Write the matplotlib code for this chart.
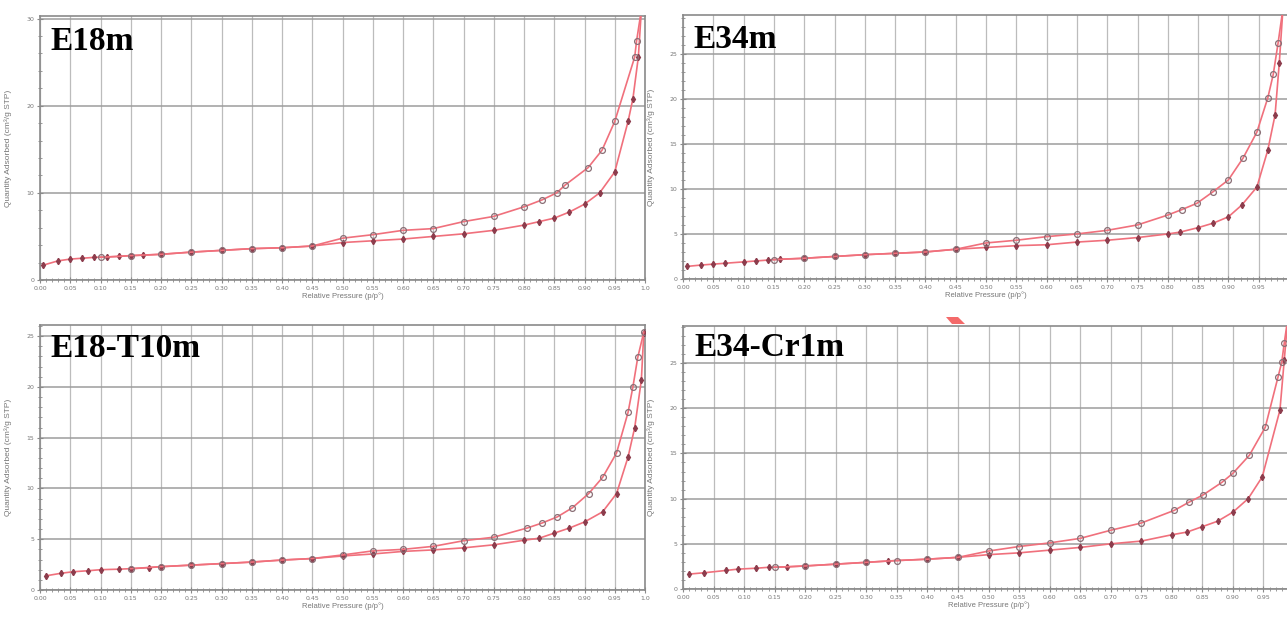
import numpy as np
import matplotlib
matplotlib.use("Agg")
import matplotlib.pyplot as plt
from matplotlib.ticker import MultipleLocator, FixedLocator, FixedFormatter
from matplotlib.patches import Polygon

# ---- data ----
x_ticks = [0.00, 0.05, 0.10, 0.15, 0.20, 0.25, 0.30, 0.35, 0.40, 0.45, 0.50,
           0.55, 0.60, 0.65, 0.70, 0.75, 0.80, 0.85, 0.90, 0.95, 1.0]
x_tick_labels = ["0.00", "0.05", "0.10", "0.15", "0.20", "0.25", "0.30", "0.35",
                 "0.40", "0.45", "0.50", "0.55", "0.60", "0.65", "0.70", "0.75",
                 "0.80", "0.85", "0.90", "0.95", "1.0"]

names = ["E18m", "E34m", "E18-T10m", "E34-Cr1m"]

e18_ads_x = [0.005, 0.03, 0.05, 0.07, 0.09, 0.11, 0.13, 0.15, 0.17, 0.20, 0.25, 0.30,
             0.35, 0.40, 0.45, 0.50, 0.55, 0.60, 0.65, 0.70, 0.75, 0.80, 0.825, 0.85,
             0.875, 0.90, 0.925, 0.95, 0.972, 0.98, 0.989, 0.994]
e18_ads_y = [1.7, 2.2, 2.4, 2.5, 2.6, 2.65, 2.7, 2.8, 2.85, 2.95, 3.2, 3.4,
             3.6, 3.7, 3.9, 4.3, 4.5, 4.7, 5.0, 5.3, 5.7, 6.3, 6.7, 7.1,
             7.8, 8.7, 10.0, 12.4, 18.2, 20.8, 25.6, 31.0]
e18_des_x = [0.994, 0.986, 0.983, 0.95, 0.929, 0.906, 0.868, 0.854, 0.83, 0.80,
             0.75, 0.70, 0.65, 0.60, 0.55, 0.50, 0.45, 0.40, 0.35, 0.30, 0.25,
             0.20, 0.15, 0.10]
e18_des_y = [31.0, 27.4, 25.6, 18.2, 14.9, 12.9, 10.9, 10.0, 9.2, 8.4,
             7.3, 6.7, 5.9, 5.7, 5.2, 4.8, 3.9, 3.7, 3.6, 3.4, 3.2,
             2.95, 2.8, 2.6]

e34_ads_x = [0.007, 0.03, 0.05, 0.07, 0.10, 0.12, 0.14, 0.16, 0.20, 0.25, 0.30,
             0.35, 0.40, 0.45, 0.50, 0.55, 0.60, 0.65, 0.70, 0.75, 0.80, 0.82,
             0.85, 0.875, 0.90, 0.922, 0.947, 0.965, 0.977, 0.984, 0.99]
e34_ads_y = [1.4, 1.55, 1.65, 1.75, 1.9, 2.0, 2.1, 2.2, 2.3, 2.5, 2.7,
             2.85, 3.0, 3.3, 3.5, 3.7, 3.8, 4.1, 4.3, 4.6, 5.0, 5.2,
             5.7, 6.2, 6.9, 8.2, 10.2, 14.3, 18.2, 24.0, 30.0]
e34_des_x = [0.99, 0.982, 0.974, 0.965, 0.947, 0.924, 0.90, 0.875, 0.848, 0.823,
             0.80, 0.75, 0.70, 0.65, 0.60, 0.55, 0.50, 0.45, 0.40, 0.35, 0.30,
             0.25, 0.20, 0.15]
e34_des_y = [30.0, 26.2, 22.7, 20.1, 16.3, 13.4, 11.0, 9.7, 8.4, 7.7,
             7.1, 6.0, 5.4, 5.0, 4.7, 4.3, 4.0, 3.3, 3.0, 2.85, 2.7,
             2.5, 2.3, 2.15]

t10_ads_x = [0.01, 0.035, 0.055, 0.08, 0.10, 0.13, 0.15, 0.18, 0.20, 0.25, 0.30,
             0.35, 0.40, 0.45, 0.50, 0.55, 0.60, 0.65, 0.70, 0.75, 0.80, 0.825,
             0.85, 0.875, 0.90, 0.93, 0.953, 0.972, 0.983, 0.994, 0.998]
t10_ads_y = [1.4, 1.65, 1.8, 1.9, 2.0, 2.05, 2.1, 2.2, 2.3, 2.45, 2.6,
             2.75, 2.95, 3.1, 3.35, 3.55, 3.8, 3.95, 4.15, 4.45, 4.9, 5.1,
             5.6, 6.1, 6.7, 7.7, 9.5, 13.1, 16.0, 20.7, 25.3]
t10_des_x = [0.998, 0.988, 0.98, 0.972, 0.953, 0.93, 0.907, 0.88, 0.855, 0.83,
             0.805, 0.75, 0.70, 0.65, 0.60, 0.55, 0.50, 0.45, 0.40, 0.35, 0.30,
             0.25, 0.20, 0.15]
t10_des_y = [25.4, 22.9, 20.0, 17.5, 13.5, 11.1, 9.5, 8.1, 7.2, 6.6,
             6.1, 5.2, 4.85, 4.3, 4.0, 3.85, 3.45, 3.1, 2.95, 2.75, 2.6,
             2.45, 2.3, 2.1]

cr1_ads_x = [0.01, 0.035, 0.07, 0.09, 0.12, 0.14, 0.17, 0.20, 0.25, 0.30, 0.335,
             0.40, 0.45, 0.50, 0.55, 0.60, 0.65, 0.70, 0.75, 0.80, 0.825, 0.85,
             0.875, 0.90, 0.925, 0.948, 0.977, 0.984, 0.99]
cr1_ads_y = [1.65, 1.8, 2.05, 2.2, 2.3, 2.4, 2.45, 2.55, 2.75, 2.95, 3.1,
             3.3, 3.5, 3.8, 4.0, 4.3, 4.6, 5.0, 5.3, 6.0, 6.3, 6.9,
             7.5, 8.5, 10.0, 12.4, 19.8, 25.3, 30.0]
cr1_des_x = [0.99, 0.984, 0.98, 0.974, 0.953, 0.927, 0.90, 0.882, 0.851, 0.828,
             0.804, 0.75, 0.70, 0.65, 0.60, 0.55, 0.50, 0.45, 0.40, 0.35, 0.30,
             0.25, 0.20, 0.15]
cr1_des_y = [30.0, 27.2, 25.1, 23.5, 17.9, 14.8, 12.8, 11.8, 10.4, 9.6,
             8.7, 7.3, 6.5, 5.6, 5.1, 4.7, 4.2, 3.5, 3.3, 3.15, 2.95,
             2.75, 2.55, 2.4]

y_tops = [30.3, 29.3, 26.1, 29.1]
y_majors = [10, 5, 5, 5]
y_minors = [2, 1, 1, 1]

ads_sets = [(e18_ads_x, e18_ads_y), (e34_ads_x, e34_ads_y),
            (t10_ads_x, t10_ads_y), (cr1_ads_x, cr1_ads_y)]
des_sets = [(e18_des_x, e18_des_y), (e34_des_x, e34_des_y),
            (t10_des_x, t10_des_y), (cr1_des_x, cr1_des_y)]

W, H = 1287, 621
# axes boxes in pixels: left, right, top, bottom (right panels run past the crop)
boxes = [(40, 645, 16, 280), (683, 1289, 15, 279),
         (40, 645, 325, 590), (683, 1294, 326, 589)]
name_pos = [(50, 50), (693, 48), (50, 357), (694, 356)]

line_col = "#f0707c"
ads_mk = "#8c3c4c"
des_mk = "#8a6f76"
txt_col = "#777777"

fig = plt.figure(figsize=(W / 100, H / 100), dpi=100)

for i in range(4):
    l, r, t, b = boxes[i]
    ax = fig.add_axes([l / W, 1 - b / H, (r - l) / W, (b - t) / H])
    ax.set_xlim(0, 1.0)
    ax.set_ylim(0, y_tops[i])

    labels = list(x_tick_labels)
    if i % 2 == 1:
        labels[-1] = ""  # the 1.0 label falls outside the cropped right panels
    ax.xaxis.set_major_locator(FixedLocator(x_ticks))
    ax.xaxis.set_major_formatter(FixedFormatter(labels))
    ax.xaxis.set_minor_locator(MultipleLocator(0.01))
    ax.yaxis.set_major_locator(MultipleLocator(y_majors[i]))
    ax.yaxis.set_minor_locator(MultipleLocator(y_minors[i]))

    ax.grid(True, axis="x", which="major", color="#bcbcbc", lw=0.9)
    ax.grid(True, axis="y", which="major", color="#9c9c9c", lw=1.1)
    ax.set_axisbelow(True)

    for s in ax.spines.values():
        s.set_color("#8a8a8a")
        s.set_linewidth(1.2)
    ax.tick_params(which="major", direction="inout", length=4, width=0.8,
                   colors="#8a8a8a", labelcolor=txt_col, labelsize=4.5, pad=2)
    ax.tick_params(which="minor", direction="inout", length=2.5, width=0.6,
                   colors="#8a8a8a")

    ax.set_xlabel("Relative Pressure (p/p°)", fontsize=5.5, color=txt_col,
                  labelpad=1, family="Liberation Sans")
    ax.set_ylabel("Quantity Adsorbed (cm³/g STP)", fontsize=6, color=txt_col,
                  family="Liberation Sans")
    ax.yaxis.set_label_coords(-28 / (r - l), 0.5)

    ax_x, ax_y = ads_sets[i]
    ds_x, ds_y = des_sets[i]
    ax.plot(ax_x, ax_y, color=line_col, lw=1.2, marker="d", ms=3.2,
            mfc=ads_mk, mec=ads_mk, zorder=3)
    ax.plot(ds_x, ds_y, color=line_col, lw=1.2, marker="o", ms=4.2,
            mfc="none", mec=des_mk, mew=0.9, zorder=3)

    nx, ny = name_pos[i]
    fig.text(nx / W, 1 - ny / H, names[i], fontsize=24, fontweight="bold",
             family="Liberation Serif", va="baseline", ha="left")

# small red mark between the lower panels in the source image
pts = [(946, 317), (958, 317), (965, 324), (952, 324)]
fig.patches.append(Polygon([(x / W, 1 - y / H) for x, y in pts], closed=True,
                           transform=fig.transFigure, color="#f46a6a", lw=0))

fig.savefig("out.png", dpi=100)
